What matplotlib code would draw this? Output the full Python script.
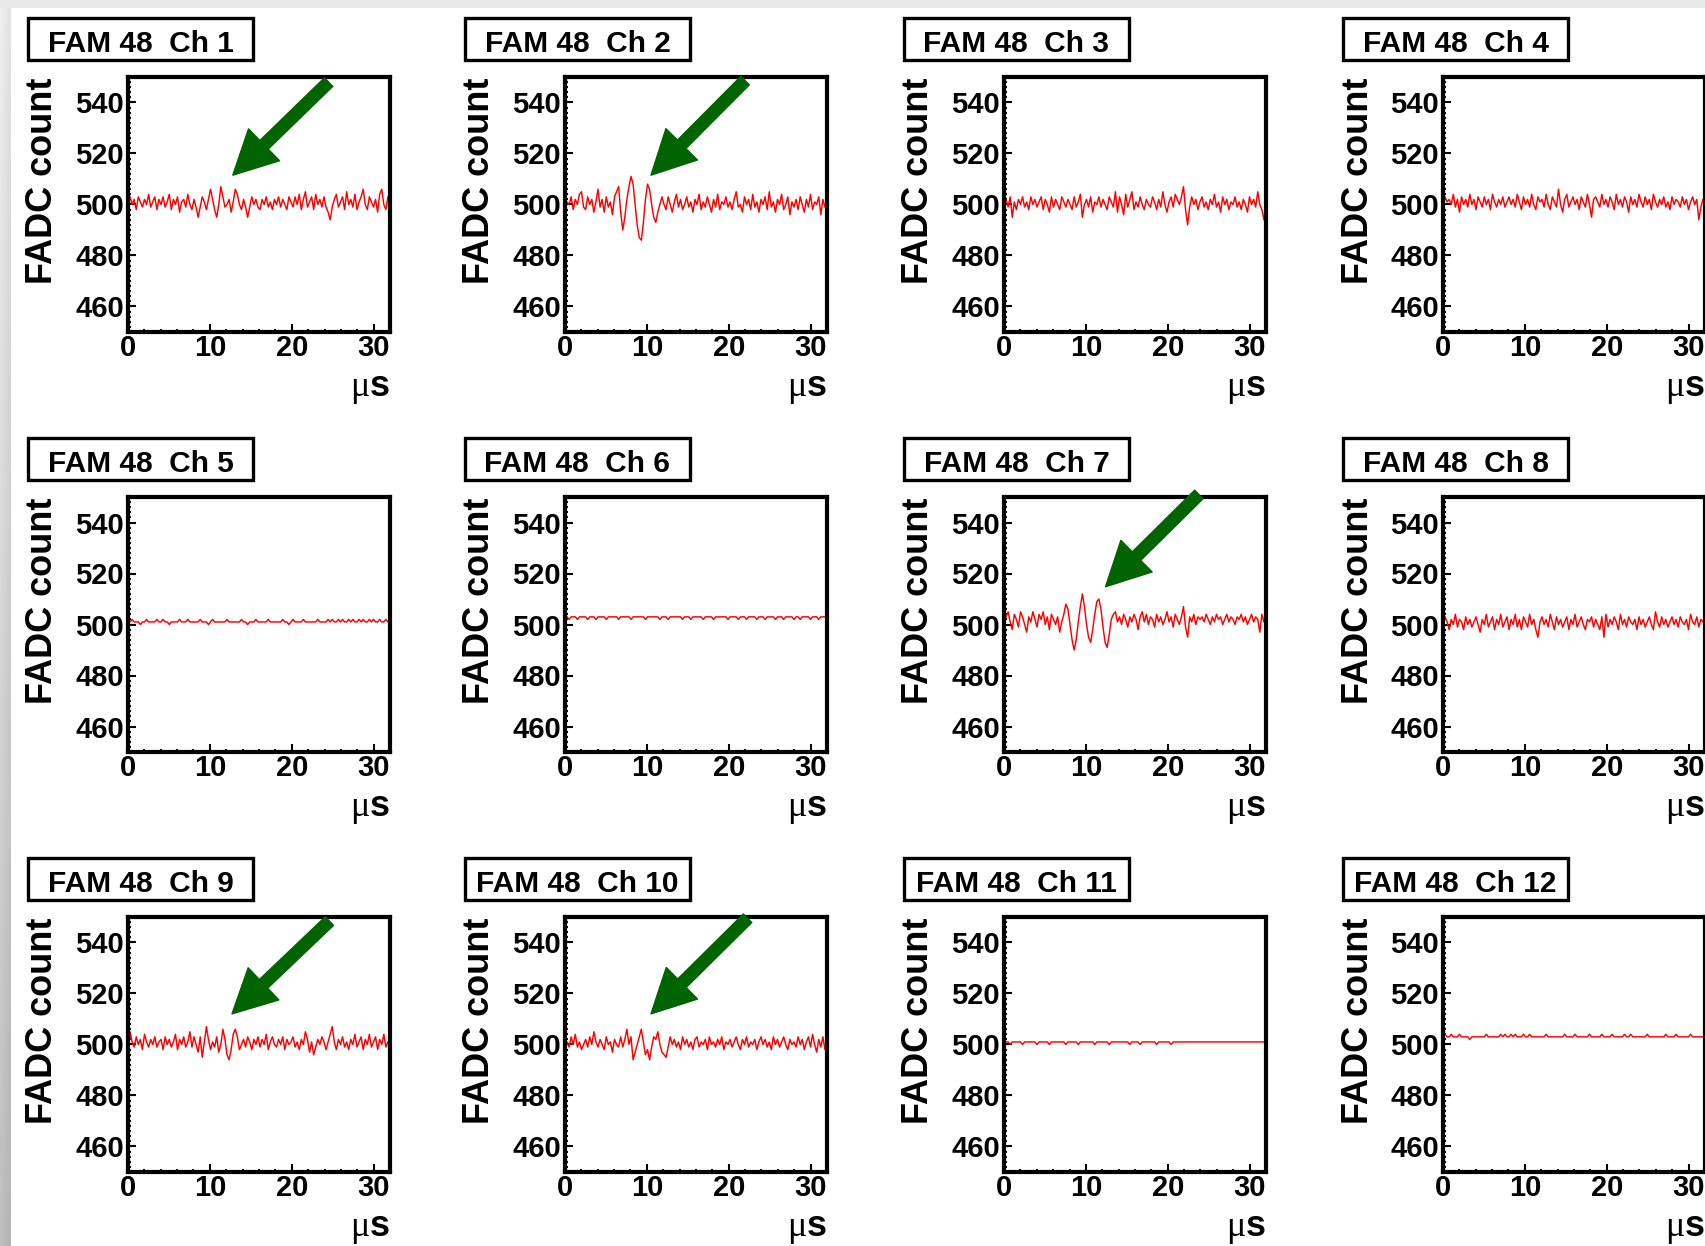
import numpy as np
import matplotlib
matplotlib.use("Agg")
import matplotlib.pyplot as plt
from matplotlib.patches import Rectangle
from matplotlib.ticker import MultipleLocator

plt.rcParams['font.family'] = ['Liberation Sans', 'DejaVu Sans']

## Data (FADC counts, one sample every 0.25 us)
fam_id = 48
channels = list(range(1, 13))

ch1 = [499, 503, 500, 502, 498, 503, 501, 499, 502, 500, 504, 499, 501, 503, 498, 502,
       500, 503, 499, 501, 504, 498, 502, 500, 503, 497, 501, 502, 499, 504, 500, 498,
       502, 499, 495, 499, 503, 501, 498, 502, 506, 502, 498, 495, 500, 507, 503, 499,
       500, 502, 497, 501, 506, 504, 500, 498, 502, 499, 495, 499, 503, 500, 502, 499,
       498, 502, 500, 503, 499, 501, 498, 502, 500, 503, 499, 502, 500, 498, 503, 501,
       499, 503, 500, 504, 498, 502, 505, 499, 501, 503, 498, 504, 500, 502, 499, 503,
       499, 497, 494, 499, 502, 504, 499, 501, 503, 498, 505, 500, 502, 499, 504, 498,
       501, 503, 506, 500, 498, 503, 501, 499, 502, 497, 504, 506, 500, 498, 503, 501]

ch2 = [499, 501, 500, 503, 498, 502, 500, 504, 505, 499, 498, 503, 500, 502, 497, 501,
       506, 499, 502, 497, 503, 499, 501, 496, 503, 505, 507, 497, 490, 495, 502, 507,
       511, 508, 500, 492, 487, 486, 493, 502, 508, 506, 500, 495, 493, 497, 500, 503,
       500, 498, 503, 500, 497, 501, 504, 499, 502, 498, 500, 503, 499, 501, 497, 502,
       500, 504, 498, 501, 499, 503, 500, 497, 502, 499, 504, 498, 501, 500, 503, 499,
       501, 498, 502, 505, 499, 500, 497, 503, 500, 502, 498, 504, 499, 501, 497, 502,
       500, 503, 498, 505, 499, 501, 497, 502, 500, 504, 498, 500, 503, 496, 501, 499,
       502, 498, 503, 500, 497, 502, 499, 504, 498, 501, 500, 503, 496, 502, 499, 501]

ch3 = [500, 502, 499, 503, 495, 501, 498, 502, 500, 503, 499, 501, 498, 503, 500, 502,
       499, 501, 503, 498, 502, 500, 497, 503, 499, 502, 500, 498, 503, 501, 499, 502,
       500, 498, 503, 499, 501, 504, 495, 500, 502, 499, 503, 497, 501, 500, 503, 499,
       502, 500, 498, 503, 501, 499, 505, 497, 503, 500, 496, 504, 499, 502, 505, 498,
       501, 499, 503, 500, 498, 502, 500, 499, 503, 501, 498, 502, 499, 505, 500, 497,
       501, 503, 499, 504, 502, 500, 503, 507, 498, 492, 499, 503, 500, 502, 498, 501,
       503, 499, 501, 498, 502, 500, 504, 499, 501, 497, 503, 500, 502, 498, 501, 500,
       503, 499, 501, 498, 502, 500, 497, 503, 500, 502, 499, 505, 500, 498, 494, 500]

ch4 = [499, 503, 501, 502, 500, 504, 499, 502, 497, 503, 500, 502, 499, 504, 500, 502,
       498, 503, 501, 499, 503, 500, 502, 498, 504, 501, 499, 502, 500, 503, 499, 501,
       503, 500, 502, 499, 504, 501, 498, 503, 500, 502, 499, 504, 500, 498, 503, 501,
       502, 499, 504, 500, 498, 503, 501, 499, 506, 500, 497, 502, 504, 499, 501, 503,
       500, 502, 498, 503, 501, 499, 504, 500, 495, 502, 503, 501, 499, 504, 500, 502,
       499, 503, 501, 498, 504, 500, 502, 499, 503, 501, 497, 503, 500, 502, 499, 504,
       501, 499, 503, 500, 502, 498, 504, 501, 499, 502, 500, 503, 499, 501, 498, 503,
       500, 502, 501, 499, 503, 500, 502, 498, 501, 503, 500, 502, 494, 499, 502, 501]

ch5 = [501, 501, 502, 501, 501, 501, 500, 501, 501, 502, 501, 501, 501, 501, 502, 501,
       501, 502, 501, 501, 500, 501, 501, 501, 501, 502, 501, 501, 501, 502, 501, 501,
       501, 501, 501, 502, 501, 501, 501, 500, 501, 502, 501, 501, 501, 501, 501, 501,
       502, 501, 501, 501, 501, 501, 501, 502, 501, 501, 500, 501, 501, 501, 502, 501,
       501, 501, 501, 501, 502, 501, 501, 501, 501, 501, 501, 502, 501, 501, 500, 501,
       502, 501, 501, 501, 501, 502, 501, 501, 501, 501, 501, 501, 502, 501, 501, 501,
       501, 502, 501, 502, 501, 501, 502, 501, 502, 501, 501, 502, 501, 502, 501, 501,
       502, 501, 502, 501, 501, 502, 501, 502, 501, 501, 502, 501, 501, 502, 501, 501]

ch6 = [503, 503, 502, 503, 503, 503, 502, 503, 503, 503, 503, 502, 503, 503, 503, 502,
       503, 503, 503, 503, 502, 503, 503, 503, 503, 503, 502, 503, 503, 503, 503, 503,
       502, 503, 503, 503, 503, 503, 503, 502, 503, 503, 503, 503, 503, 503, 502, 503,
       503, 503, 502, 503, 503, 503, 503, 503, 503, 502, 503, 503, 503, 502, 503, 503,
       503, 503, 503, 502, 503, 503, 503, 503, 502, 503, 503, 503, 503, 503, 503, 502,
       503, 503, 503, 503, 502, 503, 503, 503, 502, 503, 503, 503, 503, 502, 503, 503,
       503, 502, 503, 503, 503, 503, 502, 503, 503, 503, 502, 503, 503, 503, 503, 502,
       503, 503, 502, 503, 503, 503, 503, 502, 503, 503, 503, 502, 503, 503, 503, 503]

ch7 = [500, 503, 505, 501, 498, 504, 502, 499, 505, 503, 500, 497, 503, 501, 505, 502,
       499, 504, 502, 505, 500, 503, 498, 504, 502, 500, 503, 497, 501, 504, 508, 506,
       500, 494, 490, 494, 501, 507, 512, 507, 500, 495, 493, 498, 504, 509, 510, 506,
       499, 493, 491, 496, 502, 504, 505, 501, 503, 500, 504, 502, 499, 503, 501, 504,
       502, 498, 503, 505, 501, 504, 500, 503, 502, 499, 504, 501, 503, 500, 502, 505,
       501, 503, 499, 504, 502, 500, 503, 507, 499, 495, 503, 501, 504, 500, 503, 502,
       503, 501, 504, 502, 500, 503, 501, 504, 502, 503, 500, 502, 504, 501, 503, 502,
       500, 503, 502, 504, 501, 503, 500, 502, 504, 501, 503, 502, 497, 504, 501, 503]

ch8 = [500, 503, 501, 498, 502, 500, 504, 499, 502, 501, 498, 503, 500, 502, 499, 501,
       503, 500, 497, 502, 500, 504, 499, 501, 503, 498, 502, 500, 504, 499, 501, 503,
       498, 502, 500, 504, 499, 502, 498, 503, 501, 499, 504, 500, 502, 498, 495, 501,
       503, 500, 502, 499, 504, 501, 498, 503, 500, 502, 499, 501, 503, 498, 502, 500,
       504, 499, 501, 503, 500, 498, 502, 501, 503, 499, 502, 500, 498, 503, 495, 504,
       499, 502, 500, 503, 501, 498, 504, 500, 502, 499, 503, 501, 500, 502, 498, 503,
       500, 502, 499, 501, 503, 500, 498, 505, 501, 499, 503, 500, 502, 499, 501, 503,
       500, 502, 499, 503, 501, 500, 502, 498, 504, 501, 500, 503, 499, 502, 501, 503]

ch9 = [496, 505, 501, 499, 503, 500, 502, 498, 504, 501, 499, 502, 500, 503, 499, 501,
       502, 498, 503, 500, 502, 499, 501, 504, 498, 502, 500, 503, 499, 501, 505, 499,
       503, 500, 497, 503, 495, 501, 507, 502, 498, 501, 499, 503, 497, 500, 506, 502,
       496, 494, 498, 504, 506, 503, 498, 500, 502, 499, 503, 501, 498, 502, 500, 503,
       499, 502, 500, 504, 498, 501, 503, 500, 499, 502, 500, 503, 498, 502, 500, 501,
       503, 499, 501, 498, 502, 500, 505, 502, 497, 501, 496, 499, 502, 500, 503, 501,
       498, 501, 504, 507, 501, 498, 502, 500, 503, 499, 501, 498, 502, 500, 504, 499,
       501, 503, 498, 502, 500, 504, 499, 501, 503, 498, 502, 500, 504, 499, 501, 502]

ch10 = [498, 501, 499, 503, 500, 504, 499, 501, 498, 500, 502, 499, 503, 500, 505, 501,
        499, 502, 500, 498, 503, 500, 501, 497, 502, 500, 499, 503, 499, 502, 506, 500,
        503, 494, 497, 500, 503, 506, 501, 496, 498, 494, 499, 503, 502, 505, 500, 497,
        496, 495, 499, 503, 500, 502, 499, 501, 498, 503, 500, 502, 499, 501, 498, 502,
        503, 499, 501, 500, 502, 498, 503, 500, 501, 499, 502, 500, 503, 498, 501, 500,
        502, 499, 501, 503, 500, 498, 502, 500, 503, 499, 501, 500, 502, 498, 501, 503,
        500, 502, 499, 501, 498, 503, 500, 502, 499, 501, 503, 500, 498, 502, 500, 501,
        499, 503, 500, 502, 498, 501, 503, 499, 504, 500, 497, 502, 499, 503, 498, 501]

ch11 = [501, 501, 501, 500, 501, 501, 501, 501, 501, 500, 501, 501, 501, 501, 501, 501,
        500, 501, 501, 501, 501, 501, 500, 501, 501, 501, 501, 501, 501, 501, 500, 501,
        501, 501, 501, 501, 500, 501, 501, 501, 501, 501, 501, 501, 500, 501, 501, 501,
        501, 501, 501, 500, 501, 501, 501, 501, 501, 501, 501, 501, 501, 500, 501, 501,
        501, 501, 500, 501, 501, 501, 501, 501, 501, 501, 500, 501, 501, 501, 501, 501,
        501, 500, 501, 501, 501, 501, 501, 501, 501, 501, 501, 501, 501, 501, 501, 501,
        501, 501, 501, 501, 501, 501, 501, 501, 501, 501, 501, 501, 501, 501, 501, 501,
        501, 501, 501, 501, 501, 501, 501, 501, 501, 501, 501, 501, 501, 501, 501, 501]

ch12 = [503, 504, 503, 503, 504, 503, 503, 503, 504, 503, 503, 503, 503, 502, 503, 503,
        503, 503, 503, 503, 503, 504, 503, 503, 503, 503, 503, 503, 504, 503, 504, 503,
        503, 504, 503, 504, 503, 503, 503, 504, 503, 503, 504, 503, 503, 503, 503, 503,
        503, 503, 504, 503, 503, 503, 503, 503, 503, 503, 503, 504, 503, 503, 503, 503,
        504, 503, 503, 503, 503, 503, 503, 504, 503, 503, 503, 503, 503, 504, 503, 503,
        503, 503, 504, 503, 503, 503, 503, 503, 504, 503, 503, 504, 503, 503, 503, 503,
        503, 503, 503, 504, 503, 503, 503, 503, 503, 503, 503, 503, 504, 503, 503, 503,
        503, 504, 503, 503, 503, 503, 503, 503, 504, 503, 503, 503, 503, 503, 503, 503]

traces = {1: ch1, 2: ch2, 3: ch3, 4: ch4, 5: ch5, 6: ch6,
          7: ch7, 8: ch8, 9: ch9, 10: ch10, 11: ch11, 12: ch12}

# green arrows marking the pickup (tail, tip) in us / counts
arrow_tail = {1: (24.5, 548.0), 2: (22.0, 548.6), 7: (23.8, 551.0),
              9: (24.6, 548.4), 10: (22.3, 549.5)}
arrow_tip = {1: (12.8, 511.5), 2: (10.5, 511.5), 7: (12.4, 514.8),
             9: (12.7, 512.0), 10: (10.5, 512.0)}

## Figure Initializing
W, H = 1706, 1246
fig = plt.figure(figsize=(W / 100, H / 100), dpi=100)
fig.patch.set_facecolor('white')

def fx(x):
    return x / W

def fy(y):
    return 1 - y / H

# window shadow on the left / top edge of the screenshot
bg = fig.add_axes([0, 0, 1, 1], zorder=-5)
bg.set_xlim(0, W)
bg.set_ylim(H, 0)
bg.axis('off')
bg.add_patch(Rectangle((0, 0), W, 8, color='#e9e9e9', lw=0))
shade = np.linspace(0.90, 0.72, 60)[:, None] * np.linspace(1.04, 0.98, 11)[None, :]
bg.imshow(np.clip(shade, 0, 1), cmap='gray', vmin=0, vmax=1,
          extent=(0, 11, H, 0), aspect='auto', interpolation='bilinear')

col_left = [128, 565, 1004, 1443]
row_top = [77, 497, 917]
AW, AH = 262, 255
t_us = np.linspace(0, 32, len(ch1))

for k, ch in enumerate(channels):
    r, c = divmod(k, 4)
    left, top = col_left[c], row_top[r]
    ax = fig.add_axes([fx(left), fy(top + AH), AW / W, AH / H])
    ax.plot(t_us, traces[ch], color='red', lw=1.05)

    ax.set_xlim(0, 32)
    ax.set_ylim(450, 550)
    ax.xaxis.set_major_locator(MultipleLocator(10))
    ax.xaxis.set_minor_locator(MultipleLocator(2))
    ax.yaxis.set_major_locator(MultipleLocator(20))
    ax.yaxis.set_minor_locator(MultipleLocator(2))
    ax.tick_params(which='both', direction='in', top=False, right=False,
                   width=1.5, labelsize=21)
    ax.tick_params(which='major', length=5.5)
    ax.tick_params(which='minor', length=2.5)
    ax.tick_params(axis='y', pad=3)
    ax.tick_params(axis='x', pad=1.5)
    for lab in ax.get_xticklabels() + ax.get_yticklabels():
        lab.set_fontweight('bold')
    for sp in ax.spines.values():
        sp.set_linewidth(3.0)

    if ch in arrow_tip:
        ax.annotate('', xy=arrow_tip[ch], xytext=arrow_tail[ch], annotation_clip=False,
                    arrowprops=dict(arrowstyle='simple,head_length=0.98,head_width=1.0,tail_width=0.27',
                                    mutation_scale=32, color='#006400', shrinkA=0, shrinkB=0))

    # title box
    bx, by = left - 100, top - 59
    fig.patches.append(Rectangle((fx(bx), fy(by + 42)), 225 / W, 42 / H,
                                 transform=fig.transFigure, facecolor='white',
                                 edgecolor='black', lw=2.4))
    fig.text(fx(bx + 112.5), fy(by + 34), 'FAM %d  Ch %d' % (fam_id, ch),
             ha='center', va='baseline', fontsize=21.5, fontweight='bold')

    # axis titles
    fig.text(fx(left - 85), fy(top), 'FADC count', rotation=90, ha='center', va='top',
             fontsize=26, fontweight='bold')
    fig.text(fx(left + AW), fy(top + AH + 64), 's', ha='right', va='baseline',
             fontsize=26, fontweight='bold')
    fig.text(fx(left + AW - 20), fy(top + AH + 64), '\u03bc', ha='right', va='baseline',
             fontsize=26, family=['Liberation Serif', 'DejaVu Serif'])

fig.savefig('out.png', dpi=100)
